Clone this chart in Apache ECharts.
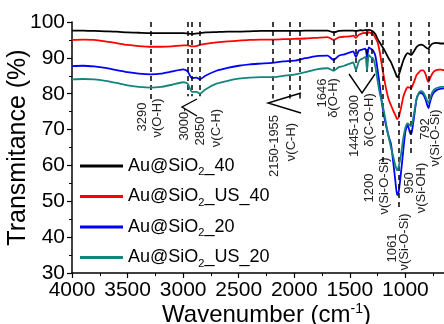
<!DOCTYPE html>
<html>
<head>
<meta charset="utf-8">
<script src="https://cdn.jsdelivr.net/npm/echarts@6.0.0/dist/echarts.min.js"></script>
<style>html,body{margin:0;padding:0;background:#fff}#c{width:444px;height:324px}</style>
</head>
<body>
<div id="c"></div>
<script>
// ---- data ----
const wavenumbers = [
  4000,3900,3800,3700,3600,3500,3400,3290,3200,3100,
  3000,2960,2920,2880,2850,2800,2700,2600,2500,2400,
  2300,2200,2100,2000,1900,1800,1700,1646,1600,1550,
  1500,1470,1445,1420,1400,1380,1360,1345,1330,1310,
  1290,1270,1250,1230,1210,1190,1170,1150,1130,1110,
  1090,1075,1060,1040,1020,1000,980,960,950,940,
  920,900,880,860,840,820,800,792,780,760,
  740,720,700,680,660,650
];
const au40 = [
  97.6,97.6,97.5,97.4,97.3,97.1,97.0,96.9,96.9,96.9,
  96.9,96.8,96.7,96.8,96.9,97.1,97.2,97.3,97.3,97.4,
  97.5,97.5,97.5,97.5,97.6,97.6,97.6,97.1,97.5,97.6,
  97.6,97.6,97.5,97.6,97.7,97.6,97.8,97.7,97.8,97.7,
  97.3,96.6,95.2,94.2,93.2,92.2,91.0,89.8,88.8,87.3,
  85.8,84.6,85.2,87.2,89.2,90.6,91.3,91.0,90.8,91.0,
  92.0,93.0,93.5,93.7,93.5,93.0,92.6,92.6,93.2,93.9,
  94.1,94.2,94.1,94.0,94.0,94.0
];
const auUS40 = [
  95.0,95.1,95.0,94.6,94.1,93.6,93.3,93.1,93.1,93.2,
  93.5,93.5,93.2,93.3,93.6,93.9,94.3,94.6,94.8,95.0,
  95.1,95.1,95.2,95.3,95.4,95.6,95.8,95.0,95.7,95.9,
  96.0,96.2,95.6,96.4,96.7,96.9,97.0,96.6,97.2,96.9,
  96.6,95.6,94.3,91.5,87.5,84.0,80.8,78.3,76.8,75.3,
  74.0,72.9,73.5,76.0,79.0,80.8,81.8,81.7,81.5,82.0,
  83.5,85.2,85.9,86.5,86.5,85.5,83.6,83.3,84.2,85.5,
  86.3,86.6,86.7,86.7,86.6,86.6
];
const au20 = [
  87.7,87.8,87.6,87.2,86.6,86.0,85.6,85.4,85.6,86.2,
  86.8,86.2,84.3,84.5,84.0,85.0,86.4,87.2,87.8,88.2,
  88.4,88.6,89.0,89.2,89.9,90.5,90.6,89.4,90.6,91.0,
  91.5,91.8,90.2,92.0,92.2,92.4,92.6,90.0,92.9,92.5,
  92.0,90.5,86.6,82.0,77.0,73.5,70.5,68.0,66.0,61.0,
  55.5,51.7,52.8,58.0,64.0,69.5,71.3,69.2,68.8,69.8,
  74.0,78.5,80.0,80.2,79.8,78.5,76.5,76.0,77.5,79.5,
  80.5,81.0,81.3,81.4,81.5,81.5
];
const auUS20 = [
  84.0,84.1,84.0,83.6,83.0,82.3,81.9,81.7,81.9,82.5,
  83.2,82.8,80.5,80.5,80.0,81.2,82.8,83.6,84.2,84.5,
  84.6,84.6,85.0,85.3,86.0,86.8,87.1,86.4,87.4,87.8,
  88.4,88.7,86.6,89.0,89.6,89.9,90.3,86.5,90.8,90.2,
  89.8,87.5,83.5,80.0,77.5,74.5,71.0,67.8,65.0,62.5,
  60.0,58.6,59.8,63.0,67.5,70.5,71.7,71.2,71.0,71.5,
  75.0,78.5,80.2,80.7,80.4,79.2,77.8,77.6,78.5,80.3,
  81.2,81.6,81.8,81.9,81.9,81.9
];
const seriesNames = ['Au@SiO2_40', 'Au@SiO2_US_40', 'Au@SiO2_20', 'Au@SiO2_US_20'];
const seriesValues = [au40, auUS40, au20, auUS20];
const seriesColors = ['#000000', '#ff0000', '#0000ff', '#14857d'];

// band marker lines: wavenumber and the transmittance where each dashed line stops
const bandPositions = [3290, 2960, 2920, 2850, 2190, 2040, 1955, 1646, 1445, 1345, 1300, 1200, 1061, 950, 792];
const bandEnds      = [78.2, 79.3, 79.3, 79.3, 78.7, 78.7, 78.7, 86.6, 85.7, 85.7, 85.7, 60.8, 47.4, 62.5, 77.3];

// band annotation texts
const bandTexts = ['3290', 'ν(O-H)', '3000-', '2850', 'ν(C-H)', '2150-1955', 'ν(C-H)', '1646', 'δ(O-H)',
  '1445-1300', 'δ(C-O-H)', '1200', 'ν(Si-O-Si)', '1061', 'ν(Si-O-Si)', '950', 'ν(Si-OH)', '792', 'ν(Si-O-Si)'];
// text layout (pixel centres)
const bandTextPos = [[142,117],[157,118],[184,124],[200,131],[216,128],[274,146],[291,142],[322,93],[333,98],
  [354,126],[369,120],[369,188],[384,186],[392,248],[404,242],[409,183],[421,188],[425,129],[435,138]];

const FONT = "'Liberation Sans', Arial, sans-serif";

const chart = echarts.init(document.getElementById('c'), null, {renderer: 'canvas'});

const series = seriesNames.map((n, i) => ({
  name: n,
  type: 'line',
  data: wavenumbers.map((w, k) => [w, seriesValues[i][k]]),
  showSymbol: false,
  symbol: 'none',
  smooth: 0.2,
  color: seriesColors[i],
  lineStyle: {width: 1.8, color: seriesColors[i]},
  z: 2 + i
}));

series.push({
  name: 'bands',
  type: 'line',
  data: [],
  silent: true,
  markLine: {
    silent: true,
    symbol: ['none', 'none'],
    label: {show: false},
    lineStyle: {color: '#000', type: [5, 4], width: 1.5},
    emphasis: {disabled: true},
    data: bandPositions.map((w, i) => [{coord: [w, 100]}, {coord: [w, bandEnds[i]]}])
  }
});

const graphics = bandTexts.map((t, i) => ({
  type: 'text',
  x: bandTextPos[i][0],
  y: bandTextPos[i][1],
  rotation: Math.PI / 2,
  silent: true,
  style: {text: t, font: '13px ' + FONT, fill: '#222', align: 'center', verticalAlign: 'middle'}
}));
// bracket marks
graphics.push({type: 'polyline', silent: true, shape: {points: [[197, 99], [182, 107], [197, 116]]}, style: {stroke: '#000', lineWidth: 1.4, fill: null}});
graphics.push({type: 'polyline', silent: true, shape: {points: [[301, 93], [268, 103], [301, 113]]}, style: {stroke: '#000', lineWidth: 1.4, fill: null}});
graphics.push({type: 'polyline', silent: true, shape: {points: [[349, 74], [362, 93], [375, 74]]}, style: {stroke: '#000', lineWidth: 1.4, fill: null}});

chart.setOption({
  animation: false,
  backgroundColor: '#fff',
  grid: {left: 72, top: 22, right: -17, bottom: 51, containLabel: false, outerBoundsMode: 'none'},
  legend: {
    data: seriesNames,
    orient: 'vertical',
    left: 75,
    top: 150,
    icon: 'rect',
    itemWidth: 43,
    itemHeight: 3,
    itemGap: 8,
    selectedMode: false,
    formatter: n => n.replace('SiO2', 'SiO{sub|2}'),
    textStyle: {
      fontFamily: FONT, fontSize: 18, color: '#000', lineHeight: 22,
      rich: {sub: {fontFamily: FONT, fontSize: 11, padding: [12, 0, 0, 0], color: '#000'}}
    }
  },
  xAxis: {
    type: 'value',
    min: 500, max: 4000, interval: 500, inverse: true,
    name: 'Wavenumber (cm{sup|-1})',
    nameLocation: 'middle',
    nameGap: 29,
    nameMoveOverlap: false,
    nameTextStyle: {
      fontFamily: FONT, fontSize: 24, color: '#000',
      rich: {sup: {fontFamily: FONT, fontSize: 14, padding: [0, 0, 12, 0], color: '#000'}}
    },
    axisLine: {show: true, onZero: false, lineStyle: {color: '#000', width: 1.5}},
    axisTick: {show: true, inside: false, length: 5, lineStyle: {color: '#000', width: 1.2}},
    minorTick: {show: true, splitNumber: 2, length: 3, lineStyle: {color: '#000', width: 1}},
    splitLine: {show: false},
    axisLabel: {fontFamily: FONT, fontSize: 21, color: '#000', margin: 7, formatter: v => v === 500 ? '' : String(v)}
  },
  yAxis: {
    type: 'value',
    min: 30, max: 100, interval: 10,
    name: 'Transmitance (%)',
    nameLocation: 'middle',
    nameGap: 41,
    nameMoveOverlap: false,
    nameTextStyle: {fontFamily: FONT, fontSize: 25, color: '#000'},
    axisLine: {show: true, onZero: false, lineStyle: {color: '#000', width: 1.5}},
    axisTick: {show: true, inside: false, length: 5, lineStyle: {color: '#000', width: 1.2}},
    minorTick: {show: true, splitNumber: 2, length: 3, lineStyle: {color: '#000', width: 1}},
    splitLine: {show: false},
    axisLabel: {fontFamily: FONT, fontSize: 21, color: '#000', margin: 7}
  },
  graphic: graphics,
  series: series
});
</script>
</body>
</html>
